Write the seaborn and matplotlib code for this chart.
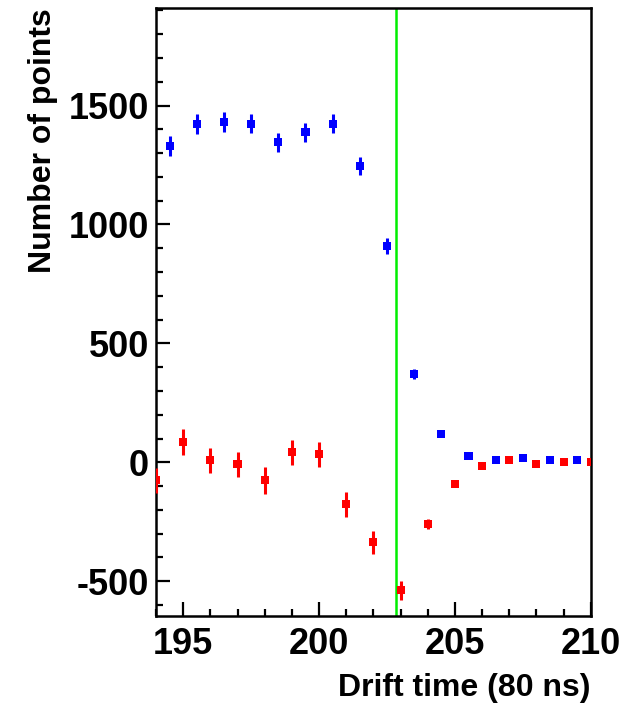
import numpy as np
import pandas as pd
import matplotlib
matplotlib.use("Agg")
import matplotlib.pyplot as plt
import seaborn as sns
from matplotlib.ticker import MultipleLocator

sns.set_style("ticks")
plt.rcParams["font.family"] = ["Liberation Sans", "DejaVu Sans"]
plt.rcParams["axes.unicode_minus"] = False
plt.rcParams["text.color"] = "black"
plt.rcParams["axes.labelcolor"] = "black"
plt.rcParams["xtick.color"] = "black"
plt.rcParams["ytick.color"] = "black"

# blue series: bin centres at half-integers
blue_x = [194.5, 195.5, 196.5, 197.5, 198.5, 199.5, 200.5, 201.5,
          202.5, 203.5, 204.5, 205.5, 206.5, 207.5, 208.5, 209.5]
blue_y = [1330, 1423, 1431, 1423, 1346, 1388, 1423, 1245,
          910, 371, 119, 26, 10, 18, 10, 10]
blue_err = [42, 42, 42, 40, 40, 40, 40, 37, 33, 20, 14, 12, 12, 12, 12, 12]

# red series: bin centres at integers
red_x = [194, 195, 196, 197, 198, 199, 200, 201, 202,
         203, 204, 205, 206, 207, 208, 209, 210]
red_y = [-76, 84, 8, -8, -76, 42, 34, -177, -336,
         -537, -259, -91, -16, 10, -7, 1, 1]
red_err = [53, 55, 53, 52, 58, 52, 52, 54, 49, 40, 20, 14, 12, 12, 12, 12, 12]

cut_x = 202.85

blue = pd.DataFrame({"t": blue_x, "n": blue_y})
red = pd.DataFrame({"t": red_x, "n": red_y})

fig = plt.figure(figsize=(6.38, 7.09), dpi=100)
ax = fig.add_axes([0.2445, 0.1312, 0.9260 - 0.2445, 0.9887 - 0.1312])

ax.errorbar(blue_x, blue_y, yerr=blue_err, fmt="none", ecolor="#0000ff",
            elinewidth=2.2, capsize=0, zorder=3)
ax.errorbar(red_x, red_y, yerr=red_err, fmt="none", ecolor="#ff0000",
            elinewidth=2.2, capsize=0, zorder=3)
sns.scatterplot(data=blue, x="t", y="n", ax=ax, marker="s", s=34,
                color="#0000ff", edgecolor="none", zorder=4)
sns.scatterplot(data=red, x="t", y="n", ax=ax, marker="s", s=34,
                color="#ff0000", edgecolor="none", zorder=4)

ax.axvline(cut_x, color="#00ee00", lw=1.8, zorder=2)

ax.set_xlim(194, 210)
ax.set_ylim(-646, 1910)
ax.xaxis.set_major_locator(MultipleLocator(5))
ax.xaxis.set_minor_locator(MultipleLocator(1))
ax.yaxis.set_major_locator(MultipleLocator(500))
ax.yaxis.set_minor_locator(MultipleLocator(100))
ax.tick_params(which="both", direction="in", width=1.6, top=False, right=False,
               colors="black")
ax.tick_params(which="major", length=10, labelsize=26)
ax.tick_params(which="minor", length=5)
ax.tick_params(axis="x", which="major", pad=8)
ax.tick_params(axis="y", which="major", pad=5)
for lab in ax.get_xticklabels() + ax.get_yticklabels():
    lab.set_fontweight("bold")
for sp in ax.spines.values():
    sp.set_linewidth(1.8)
    sp.set_color("black")

ax.set_xlabel("Drift time (80 ns)", fontsize=23, fontweight="bold",
              loc="right", labelpad=8, color="black")
ax.set_ylabel("Number of points", fontsize=23, fontweight="bold",
              loc="top", labelpad=8, color="black")

fig.savefig("out.png", dpi=100)
